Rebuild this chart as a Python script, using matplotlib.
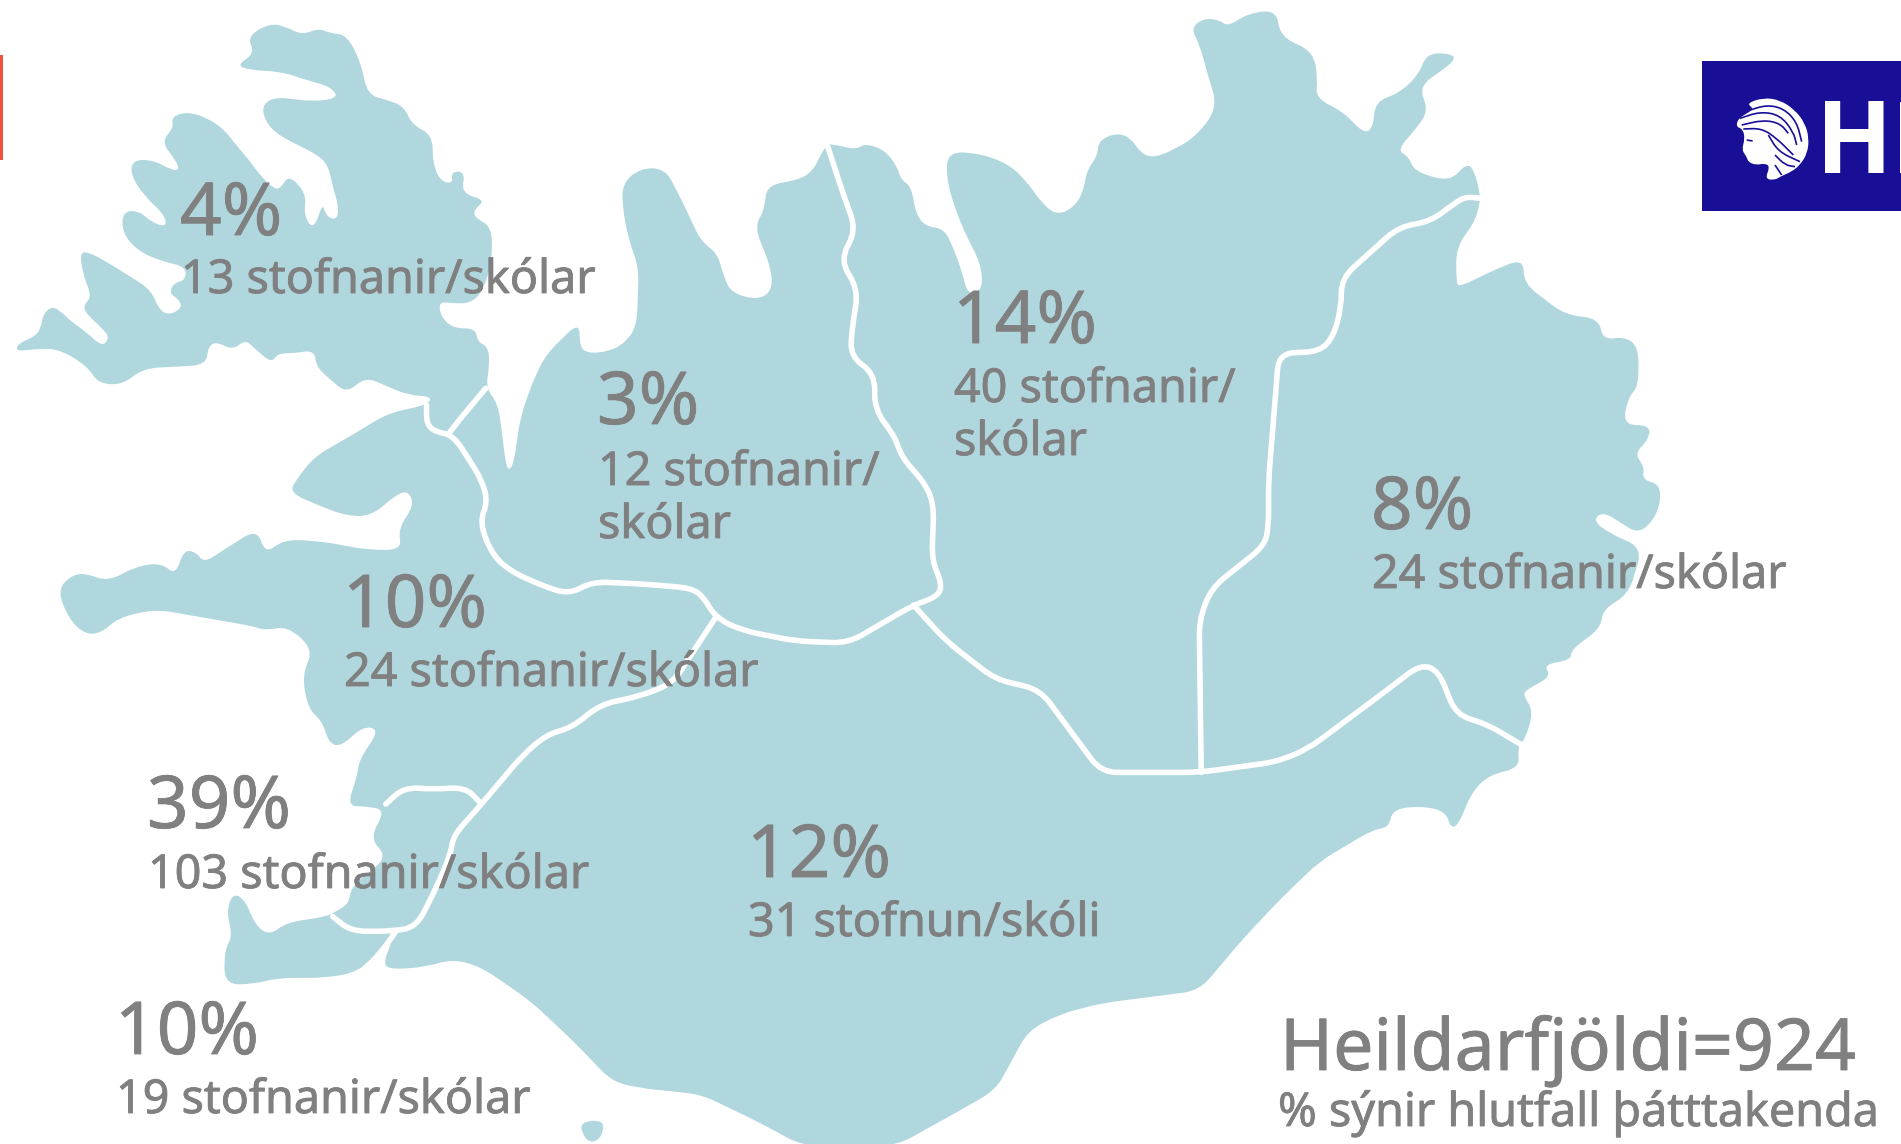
"""Iceland map: share of participants per region."""

import math

import matplotlib
matplotlib.use('Agg')
import matplotlib.pyplot as plt
import matplotlib.patheffects as pe
from matplotlib.patches import PathPatch, Rectangle
from matplotlib.path import Path

# region labels
REGION_PCT = ["4%", "3%", "14%", "8%", "10%", "39%", "10%", "12%"]
REGION_COUNT = [
    "13 stofnanir/skólar",
    "12 stofnanir/\nskólar",
    "40 stofnanir/\nskólar",
    "24 stofnanir/skólar",
    "24 stofnanir/skólar",
    "103 stofnanir/skólar",
    "19 stofnanir/skólar",
    "31 stofnun/skóli",
]
TOTAL_LABEL = "Heildarfjöldi=924"
NOTE_LABEL = "% sýnir hlutfall þátttakenda"

# label anchors, reference pixels
PCT_X = [180, 597, 953, 1371, 343, 147, 115, 747]
PCT_Y = [235, 424, 343, 529, 627, 828, 1054, 877]
COUNT_Y = [293, 485, 402, 588, 686, 888, 1113, 936]

FILL = "#b0d6de"
TEXT = "#808080"
LOGO_BLUE = "#180f96"

CROPS = {
    "nw": (0, 0, 2.45, 3.0),
    "n": (640, 0, 2.45, 3.0),
    "ne": (1280, 0, 2.525, 3.0),
    "sw": (0, 480, 2.45, 2.36),
    "s": (640, 480, 2.45, 2.36),
    "se": (1280, 480, 2.525, 2.36),
    "logo": (1700, 55, 3.0, 3.0),
}


def px(crop, pts):
    x0, y0, sx, sy = CROPS[crop]
    return [(x0 + x / sx, y0 + y / sy) for x, y in pts]


COAST = (
    px("nw", [(38, 1055), (45, 1030), (85, 1010), (100, 985), (105, 945), (125, 920), (145, 930),
              (175, 965), (210, 995), (250, 1040), (268, 1015), (255, 990), (210, 940), (205, 915),
              (225, 890), (205, 830), (195, 760), (215, 755), (260, 785), (320, 830), (370, 870),
              (390, 930), (415, 945), (445, 925), (440, 900), (415, 880), (425, 850), (455, 840),
              (455, 800), (400, 785), (340, 755), (300, 700), (300, 635), (340, 632), (375, 670),
              (410, 680), (400, 640), (355, 590), (320, 525), (325, 480), (375, 480), (420, 510),
              (440, 510), (430, 480), (395, 425), (425, 385), (420, 350), (460, 335), (510, 355),
              (550, 390), (575, 430), (610, 480), (640, 530), (675, 570), (690, 560), (705, 530),
              (730, 550), (750, 590), (745, 640), (760, 680), (775, 670), (790, 610), (800, 650),
              (825, 660), (830, 620), (815, 560), (805, 500), (780, 465), (720, 430), (670, 395),
              (645, 350), (645, 310), (680, 290), (760, 305), (830, 295), (810, 260), (750, 240),
              (690, 215), (610, 210), (580, 195), (625, 160), (605, 110), (660, 70), (700, 80),
              (740, 105), (780, 85), (810, 100), (850, 105), (885, 190), (900, 285), (950, 300),
              (990, 320), (1010, 375), (1060, 405), (1060, 490), (1080, 545), (1110, 550),
              (1105, 515), (1140, 515), (1130, 580), (1190, 600), (1160, 630), (1165, 655),
              (1205, 680), (1205, 790), (1180, 880), (1150, 910), (1110, 910), (1075, 905),
              (1080, 950), (1110, 985), (1165, 985), (1170, 1025), (1195, 1040), (1200, 1090),
              (1190, 1165), (1220, 1210), (1230, 1300), (1240, 1400), (1250, 1410), (1260, 1380),
              (1275, 1250), (1310, 1130), (1340, 1060), (1420, 965), (1420, 1040), (1440, 1060),
              (1490, 1055), (1530, 1030), (1560, 980), (1565, 800), (1540, 720), (1525, 620),
              (1525, 550), (1568, 505)])
    + px("n", [(60, 505), (90, 570), (125, 660), (150, 725), (190, 760), (205, 830), (225, 880),
               (290, 900), (325, 870), (320, 800), (280, 680), (305, 630), (310, 555), (390, 540),
               (425, 510), (440, 470), (455, 440), (465, 430), (530, 450), (550, 430), (600, 450),
               (630, 500), (640, 540), (665, 560), (675, 640), (700, 680), (745, 685), (770, 750),
               (790, 820), (803, 885), (840, 870), (835, 790), (800, 710), (770, 620), (750, 530),
               (755, 455), (830, 460), (900, 490), (945, 540), (985, 610), (1020, 645), (1060, 625),
               (1085, 580), (1095, 510), (1120, 470), (1125, 415), (1190, 395), (1240, 480),
               (1310, 450), (1370, 400), (1415, 320), (1390, 220), (1370, 130), (1350, 85),
               (1380, 55), (1420, 60), (1440, 80), (1490, 40), (1560, 30)])
    + px("ne", [(0, 110), (85, 155), (95, 240), (90, 295), (160, 335), (210, 400), (235, 385),
                (240, 305), (300, 280), (350, 225), (370, 160), (430, 160), (445, 180), (350, 260),
                (375, 330), (345, 385), (295, 450), (325, 470), (340, 515), (430, 545), (470, 490),
                (490, 510), (505, 580), (505, 610), (490, 670), (445, 740), (445, 850), (455, 860),
                (540, 810), (615, 775), (615, 850), (720, 945), (805, 955), (815, 1020), (870, 1010),
                (905, 1040), (905, 1160), (880, 1190), (865, 1275), (935, 1275), (930, 1320),
                (895, 1360), (920, 1400), (915, 1440)])
    + px("se", [(960, 10), (960, 60), (935, 105), (900, 125), (860, 100), (815, 75), (790, 95),
                (830, 125), (915, 160), (880, 270), (815, 305), (810, 350), (735, 400), (735, 425),
                (665, 435), (685, 465), (620, 495), (615, 510), (640, 545), (620, 610), (600, 630),
                (605, 680), (530, 695), (485, 735), (450, 815), (430, 820), (420, 785), (370, 770),
                (285, 775), (275, 820), (235, 825), (100, 900), (0, 990)])
    + px("s", [(1480, 1080), (1370, 1205), (1250, 1220), (1130, 1235), (1030, 1260), (950, 1300),
               (900, 1390), (870, 1440), (780, 1490), (630, 1570), (395, 1570), (300, 1520),
               (150, 1450), (0, 1435)])
    + px("sw", [(1500, 1420), (1400, 1320), (1300, 1230), (1180, 1150), (1110, 1130), (1040, 1150),
                (950, 1155), (940, 1135), (965, 1080), (880, 1160), (800, 1175), (680, 1175),
                (620, 1190), (550, 1190), (550, 1110), (570, 1075), (555, 1020), (570, 975),
                (600, 990), (625, 1050), (660, 1075), (700, 1045), (800, 1030), (820, 1020),
                (855, 1000), (860, 960), (950, 890), (905, 845), (945, 780), (900, 770), (850, 770),
                (875, 700), (880, 660), (930, 590), (890, 580), (835, 630), (805, 620), (790, 570),
                (755, 540), (740, 460), (768, 400), (705, 345), (650, 355), (620, 345), (530, 330),
                (380, 305), (290, 325), (250, 360), (210, 365), (170, 330), (140, 260), (175, 225),
                (210, 220), (265, 240), (330, 205), (395, 195), (430, 225), (450, 165), (480, 170),
                (500, 195), (540, 170), (630, 115), (650, 175), (695, 140), (790, 145), (900, 165),
                (985, 165), (975, 115), (1015, 60), (1000, 25), (970, 35), (910, 85), (850, 85),
                (780, 60), (710, 30), (725, 0)])
    + px("nw", [(770, 1370), (870, 1300), (950, 1240), (1045, 1215), (1060, 1190), (1000, 1185),
                (950, 1160), (895, 1130), (850, 1180), (810, 1140), (775, 1100), (770, 1050),
                (720, 1060), (680, 1060), (665, 1090), (620, 1040), (600, 1020), (570, 1050),
                (530, 1025), (510, 1040), (505, 1095), (430, 1100), (350, 1105), (300, 1155),
                (240, 1150), (215, 1100), (150, 1050), (100, 1045)])
)

ISLAND = px("sw", [(1420, 1515), (1480, 1510), (1475, 1550), (1450, 1565), (1430, 1550)])

# region borders, drawn white over the fill
BORDERS = [
    px("nw", [(1045, 1215), (1045, 1270), (1065, 1295), (1110, 1305), (1150, 1380), (1180, 1440)])
    + px("sw", [(1195, 50), (1175, 100), (1205, 175), (1250, 215), (1330, 250), (1395, 270),
                (1450, 240), (1568, 245)])
    + px("s", [(125, 255), (155, 275), (185, 325), (250, 355), (380, 380), (510, 385), (670, 295),
               (730, 275), (740, 245), (715, 190), (720, 60), (700, 10)])
    + px("n", [(640, 1370), (625, 1310), (575, 1230), (575, 1120), (515, 1070), (520, 980),
               (535, 870), (490, 780), (530, 690), (500, 590), (460, 440)]),
    px("nw", [(1190, 1165), (1125, 1260), (1100, 1300)]),
    px("s", [(670, 295), (750, 380), (870, 470), (980, 495), (1130, 690), (1370, 690), (1560, 665)])
    + px("se", [(70, 635), (250, 510), (355, 435), (400, 450), (445, 555), (520, 575), (610, 625)]),
    px("s", [(1375, 690), (1370, 330), (1400, 255), (1530, 155), (1540, 110), (1540, 0)])
    + px("n", [(1555, 1215), (1565, 1060)])
    + px("ne", [(100, 1055), (135, 1010), (155, 920), (155, 835), (300, 680), (380, 665), (440, 610),
                (470, 590), (505, 595)]),
    px("sw", [(945, 765), (990, 725), (1060, 730), (1140, 725), (1175, 760)]),
    px("s", [(185, 325), (120, 420), (80, 480), (0, 510)])
    + px("sw", [(1470, 530), (1400, 585), (1340, 600), (1280, 650), (1175, 770), (1110, 840),
                (1105, 880), (1070, 960), (1020, 1055), (960, 1065), (860, 1065), (815, 1030)]),
    px("sw", [(970, 1065), (930, 1120), (880, 1165)]),
]

# logo head: white silhouette with blue strokes
HEAD = px("logo", [(140, 145), (190, 128), (240, 135), (285, 165), (315, 205), (327, 250), (322, 295),
                   (300, 330), (275, 350), (240, 365), (225, 375), (195, 372), (210, 335), (195, 325),
                   (170, 330), (145, 322), (140, 305), (125, 285), (135, 250), (128, 222), (108, 215),
                   (115, 190), (150, 170), (160, 160)])
HEAD_STROKES = [
    px("logo", [(150, 165), (200, 150), (250, 160), (290, 200), (305, 260)]),
    px("logo", [(120, 190), (180, 170), (240, 180), (280, 230), (290, 270)]),
    px("logo", [(125, 210), (190, 195), (240, 205), (265, 235)]),
    px("logo", [(130, 222), (185, 220), (230, 250), (280, 300)]),
    px("logo", [(205, 240), (235, 290), (300, 320)]),
    px("logo", [(225, 300), (255, 330), (285, 335)]),
    px("logo", [(225, 330), (245, 360)]),
    px("logo", [(140, 255), (158, 258)]),
]


def toward(a, b, r):
    # point on a-b at most r from a, never past the middle
    d = math.hypot(b[0] - a[0], b[1] - a[1]) or 1
    t = min(r / d, 0.5)
    return (a[0] + (b[0] - a[0]) * t, a[1] + (b[1] - a[1]) * t)


def smooth(pts, closed=False, r=16):
    # straight edges, with a small quadratic curve round each vertex
    verts, codes = [], []
    n = len(pts)
    inner = range(n) if closed else range(1, n - 1)
    if not closed:
        verts.append(pts[0])
        codes.append(Path.MOVETO)
    for k in inner:
        p = pts[k]
        entry = toward(p, pts[k - 1], r)
        leave = toward(p, pts[(k + 1) % n], r)
        verts += [entry, p, leave]
        codes += [Path.MOVETO if (closed and not verts[:-3]) else Path.LINETO,
                  Path.CURVE3, Path.CURVE3]
    if closed:
        verts.append(verts[0])
        codes.append(Path.LINETO)
    else:
        verts.append(pts[-1])
        codes.append(Path.LINETO)
    return Path(verts, codes)


plt.rcParams['font.family'] = ['Noto Sans', 'DejaVu Sans']

fig = plt.figure(figsize=(19.01, 11.44), dpi=100)
ax = fig.add_axes([0, 0, 1, 1])
ax.set_xlim(0, 1901)
ax.set_ylim(1144, 0)
ax.axis('off')

ax.add_patch(PathPatch(smooth(COAST, closed=True), facecolor=FILL, edgecolor='none'))
ax.add_patch(PathPatch(smooth(ISLAND, closed=True), facecolor=FILL, edgecolor='none'))
for line in BORDERS:
    ax.add_patch(PathPatch(smooth(line), facecolor='none', edgecolor='white', lw=4,
                           joinstyle='round', capstyle='round'))

# red tab on the left edge, logo block on the right
ax.add_patch(Rectangle((0, 55), 3, 105, facecolor='#f0503c', edgecolor='none'))
ax.add_patch(Rectangle((1702, 61), 199, 150, facecolor=LOGO_BLUE, edgecolor='none'))
ax.add_patch(PathPatch(smooth(HEAD, closed=True), facecolor='white', edgecolor='none'))
for stroke in HEAD_STROKES:
    ax.add_patch(PathPatch(smooth(stroke), facecolor='none', edgecolor=LOGO_BLUE, lw=1.2))
ax.text(1816, 173, "H", fontsize=72, fontweight='bold', color='white', va='baseline',
        family='Open Sans')
ax.add_patch(Rectangle((1899.5, 102), 1.5, 71, facecolor='white', edgecolor='none'))

# the source font is a little heavier than Noto Sans regular
heavier = [pe.withStroke(linewidth=0.6, foreground=TEXT)]

for i, pct in enumerate(REGION_PCT):
    ax.text(PCT_X[i], PCT_Y[i], pct, fontsize=52.5, color=TEXT, va='baseline', path_effects=heavier)
    for j, row in enumerate(REGION_COUNT[i].split("\n")):
        ax.text(PCT_X[i] + 1, COUNT_Y[i] + j * 53, row, fontsize=33.6, color=TEXT, va='baseline',
                path_effects=heavier)

ax.text(1280, 1070, TOTAL_LABEL, fontsize=51.6, color=TEXT, va='baseline', path_effects=heavier)
ax.text(1278, 1126, NOTE_LABEL, fontsize=33.6, color=TEXT, va='baseline', path_effects=heavier)

fig.savefig('out.png', dpi=100)
